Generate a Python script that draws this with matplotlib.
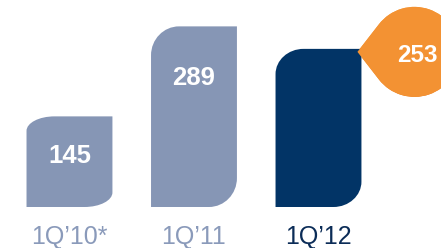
import numpy as np
import matplotlib
matplotlib.use('Agg')
from matplotlib import pyplot as plt
from matplotlib.path import Path
from matplotlib.patches import PathPatch
from matplotlib.transforms import ScaledTranslation

# Data
quarters = ["1Q\u201910*", "1Q\u201911", "1Q\u201912"]
values = [145, 289, 253]
callout_value = 253

bar_colors = ['#8696B5', '#8696B5', '#023466']
label_colors = ['#8A9ABA', '#8A9ABA', '#0B2C57']

plt.rcParams['font.family'] = ['Liberation Sans', 'DejaVu Sans']

fig = plt.figure(figsize=(4.41, 2.48), dpi=100)
ax = fig.add_axes([0, 0, 1, 1])
ax.axis('off')

# 124.5 px per x unit, 0.625 px per value unit
ax.set_xlim(-0.558, 2.984)
ax.set_ylim(-65.6, 331.2)

K = 0.5523
width = 0.69
rx = 0.225


def bar_path(xc, v):
    # rounded top-left and bottom-right corners
    x0, x1 = xc - width / 2, xc + width / 2
    ry = 0.16 * v
    verts = [
        (x0, 0), (x1 - rx, 0),
        (x1 - rx + K * rx, 0), (x1, ry - K * ry), (x1, ry),
        (x1, v), (x0 + rx, v),
        (x0 + rx - K * rx, v), (x0, v - ry + K * ry), (x0, v - ry),
        (x0, 0),
    ]
    codes = [Path.MOVETO, Path.LINETO,
             Path.CURVE4, Path.CURVE4, Path.CURVE4,
             Path.LINETO, Path.LINETO,
             Path.CURVE4, Path.CURVE4, Path.CURVE4,
             Path.CLOSEPOLY]
    return Path(verts, codes)


for i, v in enumerate(values):
    ax.add_patch(PathPatch(bar_path(i, v), facecolor=bar_colors[i],
                           edgecolor='none'))
    ax.text(i, -59, quarters[i], ha='center', va='baseline', fontsize=18,
            color=label_colors[i])

value_offsets = [75, 94]
for i in range(2):
    ax.text(i, values[i] - value_offsets[i], str(values[i]), ha='center',
            va='baseline', fontsize=18.5, fontweight='bold', color='white')

# orange callout anchored at top-right corner of the last bar
tr = fig.dpi_scale_trans + ScaledTranslation(2 + width / 2, values[2],
                                             ax.transData)
cx, cy, r = 0.53, -0.03, 0.45
tip = (-0.04, -0.03)
ang = np.degrees(np.arccos(r / (cx - tip[0])))
arc = Path.arc(180 + ang, 540 - ang)
arc_verts = arc.vertices * r + [cx, cy]
verts = [tip] + list(arc_verts) + [tip]
codes = [Path.MOVETO] + [Path.LINETO] + list(arc.codes[1:]) + [Path.CLOSEPOLY]
drop = PathPatch(Path(verts, codes), facecolor='#F39233', edgecolor='none',
                 transform=tr)
ax.add_patch(drop)

grad = np.linspace(0, 1, 100).reshape(-1, 1)
cmap = matplotlib.colors.LinearSegmentedColormap.from_list(
    'org', ['#F9A13F', '#F59535', '#E9781C'])
img = ax.imshow(grad, cmap=cmap, aspect='auto', origin='upper',
                extent=(-0.1, 1.1, -0.5, 0.45), transform=tr)
img.set_clip_path(drop)

ax.text(0.56, -0.13, str(callout_value), transform=tr, ha='center',
        va='baseline', fontsize=17.5, fontweight='bold', color='white')

ax.set_xlim(-0.558, 2.984)
ax.set_ylim(-65.6, 331.2)

plt.savefig('out.png', dpi=100)
